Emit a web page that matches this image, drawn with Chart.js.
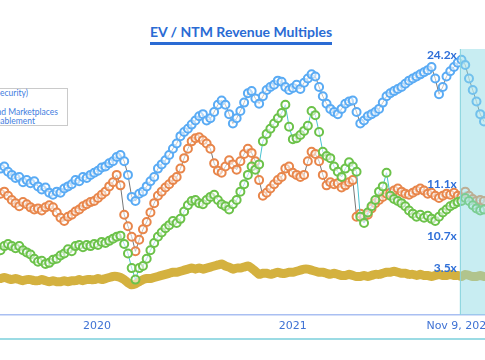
<!DOCTYPE html>
<html>
<head>
<meta charset="utf-8">
<script src="https://cdn.jsdelivr.net/npm/chart.js@4.4.0/dist/chart.umd.min.js"></script>
<style>
    html, body { margin: 0; padding: 0; width: 485px; height: 360px; overflow: hidden; background: #fff; }
    #title { position: absolute; left: 0; top: 23px; width: 482px; text-align: center; font: bold 14px Lato, sans-serif; color: #2a6bd4; }
    #title span { display: inline-block; line-height: 16px; padding-bottom: 2px; border-bottom: 3px solid #2a6bd4; }
    #legend { position: absolute; left: -130px; top: 88px; width: 196px; height: 36px; border: 1px solid #cacaca; background: #fff; }
    #legend div { position: absolute; white-space: nowrap; font: 8.5px Lato, sans-serif; line-height: 9px; color: #3f7de0; }
    #chartBox { position: absolute; left: 0; top: 0; width: 560px; height: 360px; }
    #bottomRule { position: absolute; left: 0; top: 338px; width: 485px; height: 2px; background: #9bdbe4; }
</style>
</head>
<body>
<div id="title"><span>EV / NTM Revenue Multiples</span></div>
<div id="chartBox"><canvas id="myChart"></canvas></div>
<div id="legend">
    <div style="right: 39px; top: 0px;">Infrastructure (incl. Security)</div>
    <div style="right: 72px; top: 10px;">Vertical SaaS</div>
    <div style="right: 9px; top: 19px;">Consumer Internet and Marketplaces</div>
    <div style="right: 32px; top: 28px;">Commerce Enablement</div>
</div>
<div id="bottomRule"></div>
<script>
// weekly series, first week starts 2019-07-05
const startDate = '2019-07-05';
const xFrom = '2019-07-04';
const xTo = '2022-05-15';

const tickDates = ['2020-01-01', '2021-01-01', '2021-11-09'];
const tickLabels = ['2020', '2021', 'Nov 9, 2021'];
const markDate = '2021-11-09';

const seriesNames = ['Infrastructure (incl. Security)', 'Vertical SaaS', 'Consumer Internet and Marketplaces', 'Commerce Enablement'];

const blue = [13.8, 14.0, 13.5, 13.2, 12.9, 13.0, 12.5, 12.7, 12.4, 12.6,
    12.1, 11.8, 12.0, 11.5, 11.3, 11.6, 11.5, 11.9, 12.1, 12.3,
    12.7, 12.6, 13.0, 12.9, 13.2, 13.4, 13.6, 13.9, 14.0, 14.3,
    14.5, 14.9, 15.1, 14.5, 13.2, 11.1, 10.7, 11.4, 11.6, 12.1,
    12.6, 13.0, 13.8, 14.2, 14.6, 15.1, 15.7, 16.2, 16.9, 17.3,
    17.6, 18.0, 18.4, 18.8, 19.0, 18.4, 18.6, 19.2, 19.9, 20.3,
    19.9, 19.0, 18.1, 18.6, 19.3, 20.1, 21.0, 21.2, 20.5, 20.0,
    20.7, 21.3, 21.6, 21.8, 22.2, 22.1, 21.6, 21.3, 21.5, 21.8,
    21.4, 22.0, 22.4, 22.8, 22.6, 21.6, 20.7, 20.0, 19.5, 19.2,
    19.0, 19.5, 20.0, 20.2, 20.3, 19.2, 18.1, 18.4, 18.8, 19.0,
    19.2, 19.5, 20.1, 20.7, 21.0, 21.2, 21.4, 21.6, 21.9, 22.2,
    22.4, 22.6, 22.8, 23.0, 23.2, 23.5, 22.4, 20.9, 21.6, 22.6,
    23.1, 23.5, 23.9, 24.2, 23.7, 22.4, 21.3, 20.2, 19.0, 18.3];

const orange = [11.4, 11.6, 11.2, 10.8, 10.5, 10.2, 10.6, 10.4, 10.1, 9.9,
    10.0, 9.8, 10.1, 10.3, 10.1, 9.6, 9.1, 8.8, 9.2, 9.4,
    9.7, 9.9, 10.2, 10.4, 10.6, 10.7, 11.0, 11.3, 11.6, 12.1,
    12.5, 13.2, 12.2, 9.4, 8.3, 7.3, 5.9, 7.0, 8.0, 8.7,
    9.6, 10.5, 11.2, 11.6, 12.0, 12.3, 12.7, 13.0, 13.8, 14.8,
    15.7, 16.4, 16.7, 16.8, 16.5, 16.2, 15.7, 14.3, 13.6, 13.4,
    14.0, 14.6, 14.2, 13.7, 14.5, 15.2, 15.7, 15.3, 14.5, 12.7,
    11.2, 11.5, 11.9, 12.3, 12.7, 13.0, 13.8, 14.0, 13.4, 13.2,
    13.0, 13.2, 14.5, 15.4, 15.2, 14.5, 13.2, 12.2, 12.5, 12.3,
    12.4, 12.0, 12.2, 12.5, 12.7, 9.2, 9.5, 9.2, 9.4, 10.0,
    10.5, 10.8, 11.1, 11.4, 11.5, 11.7, 11.9, 11.6, 11.4, 11.3,
    11.5, 11.7, 11.9, 11.7, 11.4, 11.5, 11.2, 11.0, 11.2, 11.4,
    11.3, 11.5, 11.2, 11.1, 11.6, 11.2, 10.9, 10.7, 10.8, 10.7];

const green = [6.0, 6.4, 6.6, 6.4, 6.2, 6.4, 6.0, 5.8, 5.6, 5.2,
    4.9, 5.0, 4.7, 4.8, 5.1, 5.2, 5.5, 5.7, 6.1, 5.9,
    6.4, 6.5, 6.3, 6.5, 6.4, 6.6, 6.5, 6.8, 6.7, 6.9,
    7.1, 7.3, 7.4, 6.6, 5.7, 4.3, 3.2, 4.3, 4.5, 5.2,
    6.0, 6.7, 7.3, 7.7, 8.1, 8.4, 8.8, 8.6, 9.0, 9.7,
    10.3, 10.7, 10.8, 10.5, 10.4, 10.8, 11.1, 11.3, 10.8, 10.4,
    10.2, 9.9, 10.4, 10.8, 11.6, 12.3, 13.2, 14.0, 13.7, 14.2,
    16.4, 17.1, 17.6, 18.1, 18.6, 19.1, 19.9, 17.8, 16.6, 16.7,
    17.0, 17.4, 17.9, 19.3, 18.9, 17.3, 15.4, 15.0, 14.8, 14.0,
    13.5, 13.0, 13.8, 14.4, 14.0, 13.5, 9.2, 8.6, 9.6, 10.2,
    10.8, 11.6, 12.1, 13.4, 11.2, 10.9, 10.7, 10.5, 10.2, 9.8,
    9.5, 9.2, 9.4, 9.1, 9.3, 9.0, 8.8, 9.2, 9.6, 9.9,
    10.2, 10.4, 10.6, 10.7, 11.0, 10.7, 10.3, 10.0, 9.8, 9.9];

const gold = [3.3, 3.4, 3.3, 3.2, 3.3, 3.2, 3.1, 3.2, 3.2, 3.1,
    3.1, 3.2, 3.1, 3.0, 3.1, 3.0, 3.0, 3.1, 3.0, 3.1,
    3.1, 3.2, 3.1, 3.2, 3.2, 3.2, 3.3, 3.2, 3.3, 3.4,
    3.5, 3.5, 3.4, 3.2, 2.9, 2.7, 2.8, 3.0, 3.2, 3.3,
    3.3, 3.4, 3.5, 3.6, 3.7, 3.8, 3.9, 3.9, 4.0, 4.1,
    4.2, 4.3, 4.2, 4.3, 4.2, 4.3, 4.4, 4.5, 4.6, 4.7,
    4.5, 4.4, 4.2, 4.3, 4.3, 4.4, 4.5, 4.3, 4.0, 3.7,
    3.8, 3.8, 3.7, 3.8, 3.9, 3.8, 3.8, 3.9, 3.9, 4.0,
    4.1, 4.2, 4.2, 4.1, 4.0, 3.9, 3.9, 3.8, 3.7, 3.8,
    3.7, 3.6, 3.6, 3.7, 3.6, 3.5, 3.5, 3.6, 3.5, 3.6,
    3.7, 3.7, 3.8, 3.9, 3.9, 4.0, 3.9, 3.8, 3.8, 3.7,
    3.7, 3.6, 3.7, 3.6, 3.6, 3.5, 3.6, 3.7, 3.6, 3.6,
    3.7, 3.6, 3.6, 3.5, 3.7, 3.6, 3.5, 3.5, 3.6, 3.5];

// values shown next to the Nov 9 line
const markValues = [24.2, 11.1, 10.7, 3.5];
const markLabelShift = [-5, -13, 35, -8];

const dayOf = (s) => (Date.parse(s) - Date.parse('2020-01-01')) / 86400000;
const weekDays = blue.map((v, i) => dayOf(startDate) + i * 7);
const toPoints = (values) => values.map((v, i) => ({x: weekDays[i], y: v}));

const circleSeries = (label, values, color, lineColor) => ({
    label: label,
    data: toPoints(values),
    borderColor: lineColor,
    borderWidth: 1,
    pointRadius: 4,
    pointBorderWidth: 2,
    pointBorderColor: color,
    pointBackgroundColor: 'rgba(255, 255, 255, 0.55)',
    tension: 0
});

const markPlugin = {
    id: 'markPlugin',
    afterDatasetsDraw(chart) {
        const {ctx, chartArea, scales} = chart;
        const left = scales.x.getPixelForValue(dayOf(markDate));
        ctx.save();
        ctx.fillStyle = 'rgba(140, 218, 228, 0.48)';
        ctx.fillRect(left, chartArea.top, chartArea.right - left, chartArea.bottom - chartArea.top);
        ctx.strokeStyle = '#8ad4de';
        ctx.lineWidth = 1;
        ctx.beginPath();
        ctx.moveTo(left + 0.5, chartArea.top);
        ctx.lineTo(left + 0.5, chartArea.bottom);
        ctx.stroke();

        ctx.font = 'bold 12px Lato';
        ctx.fillStyle = '#2f6fd8';
        ctx.textAlign = 'right';
        ctx.textBaseline = 'middle';
        markValues.forEach((v, i) => {
            ctx.fillText(v.toFixed(1) + 'x', left - 3, scales.y.getPixelForValue(v) + markLabelShift[i]);
        });
        ctx.restore();
    }
};

const ctx = document.getElementById('myChart').getContext('2d');
new Chart(ctx, {
    type: 'line',
    data: {
        datasets: [
            circleSeries(seriesNames[2], green, '#6cc24a', '#49c3d1'),
            circleSeries(seriesNames[1], orange, '#e8864b', '#777777'),
            circleSeries(seriesNames[0], blue, '#5aabf4', '#777777'),
            {
                label: seriesNames[3],
                data: toPoints(gold),
                borderColor: '#d4b13f',
                borderWidth: 9,
                borderCapStyle: 'round',
                borderJoinStyle: 'round',
                pointRadius: 0,
                tension: 0.2
            }
        ]
    },
    options: {
        responsive: true,
        maintainAspectRatio: false,
        animation: false,
        layout: {
            autoPadding: false,
            padding: {top: 49, bottom: 22, left: 0, right: 0}
        },
        plugins: {
            legend: {display: false},
            tooltip: {enabled: false}
        },
        scales: {
            x: {
                type: 'linear',
                min: dayOf(xFrom),
                max: dayOf(xTo),
                grid: {display: false, drawTicks: false},
                border: {color: '#a9bff2', width: 1.5},
                afterBuildTicks: (scale) => {
                    scale.ticks = tickDates.map(d => ({value: dayOf(d)}));
                },
                ticks: {
                    padding: 5,
                    color: '#3f72d4',
                    font: {family: 'DejaVu Sans', size: 11},
                    maxRotation: 0,
                    autoSkip: false,
                    callback: (value) => {
                        const idx = tickDates.findIndex(d => dayOf(d) === value);
                        return idx >= 0 ? tickLabels[idx] : '';
                    }
                }
            },
            y: {
                display: false,
                min: -0.16,
                max: 25.22
            }
        }
    },
    plugins: [markPlugin]
});
</script>
</body>
</html>
